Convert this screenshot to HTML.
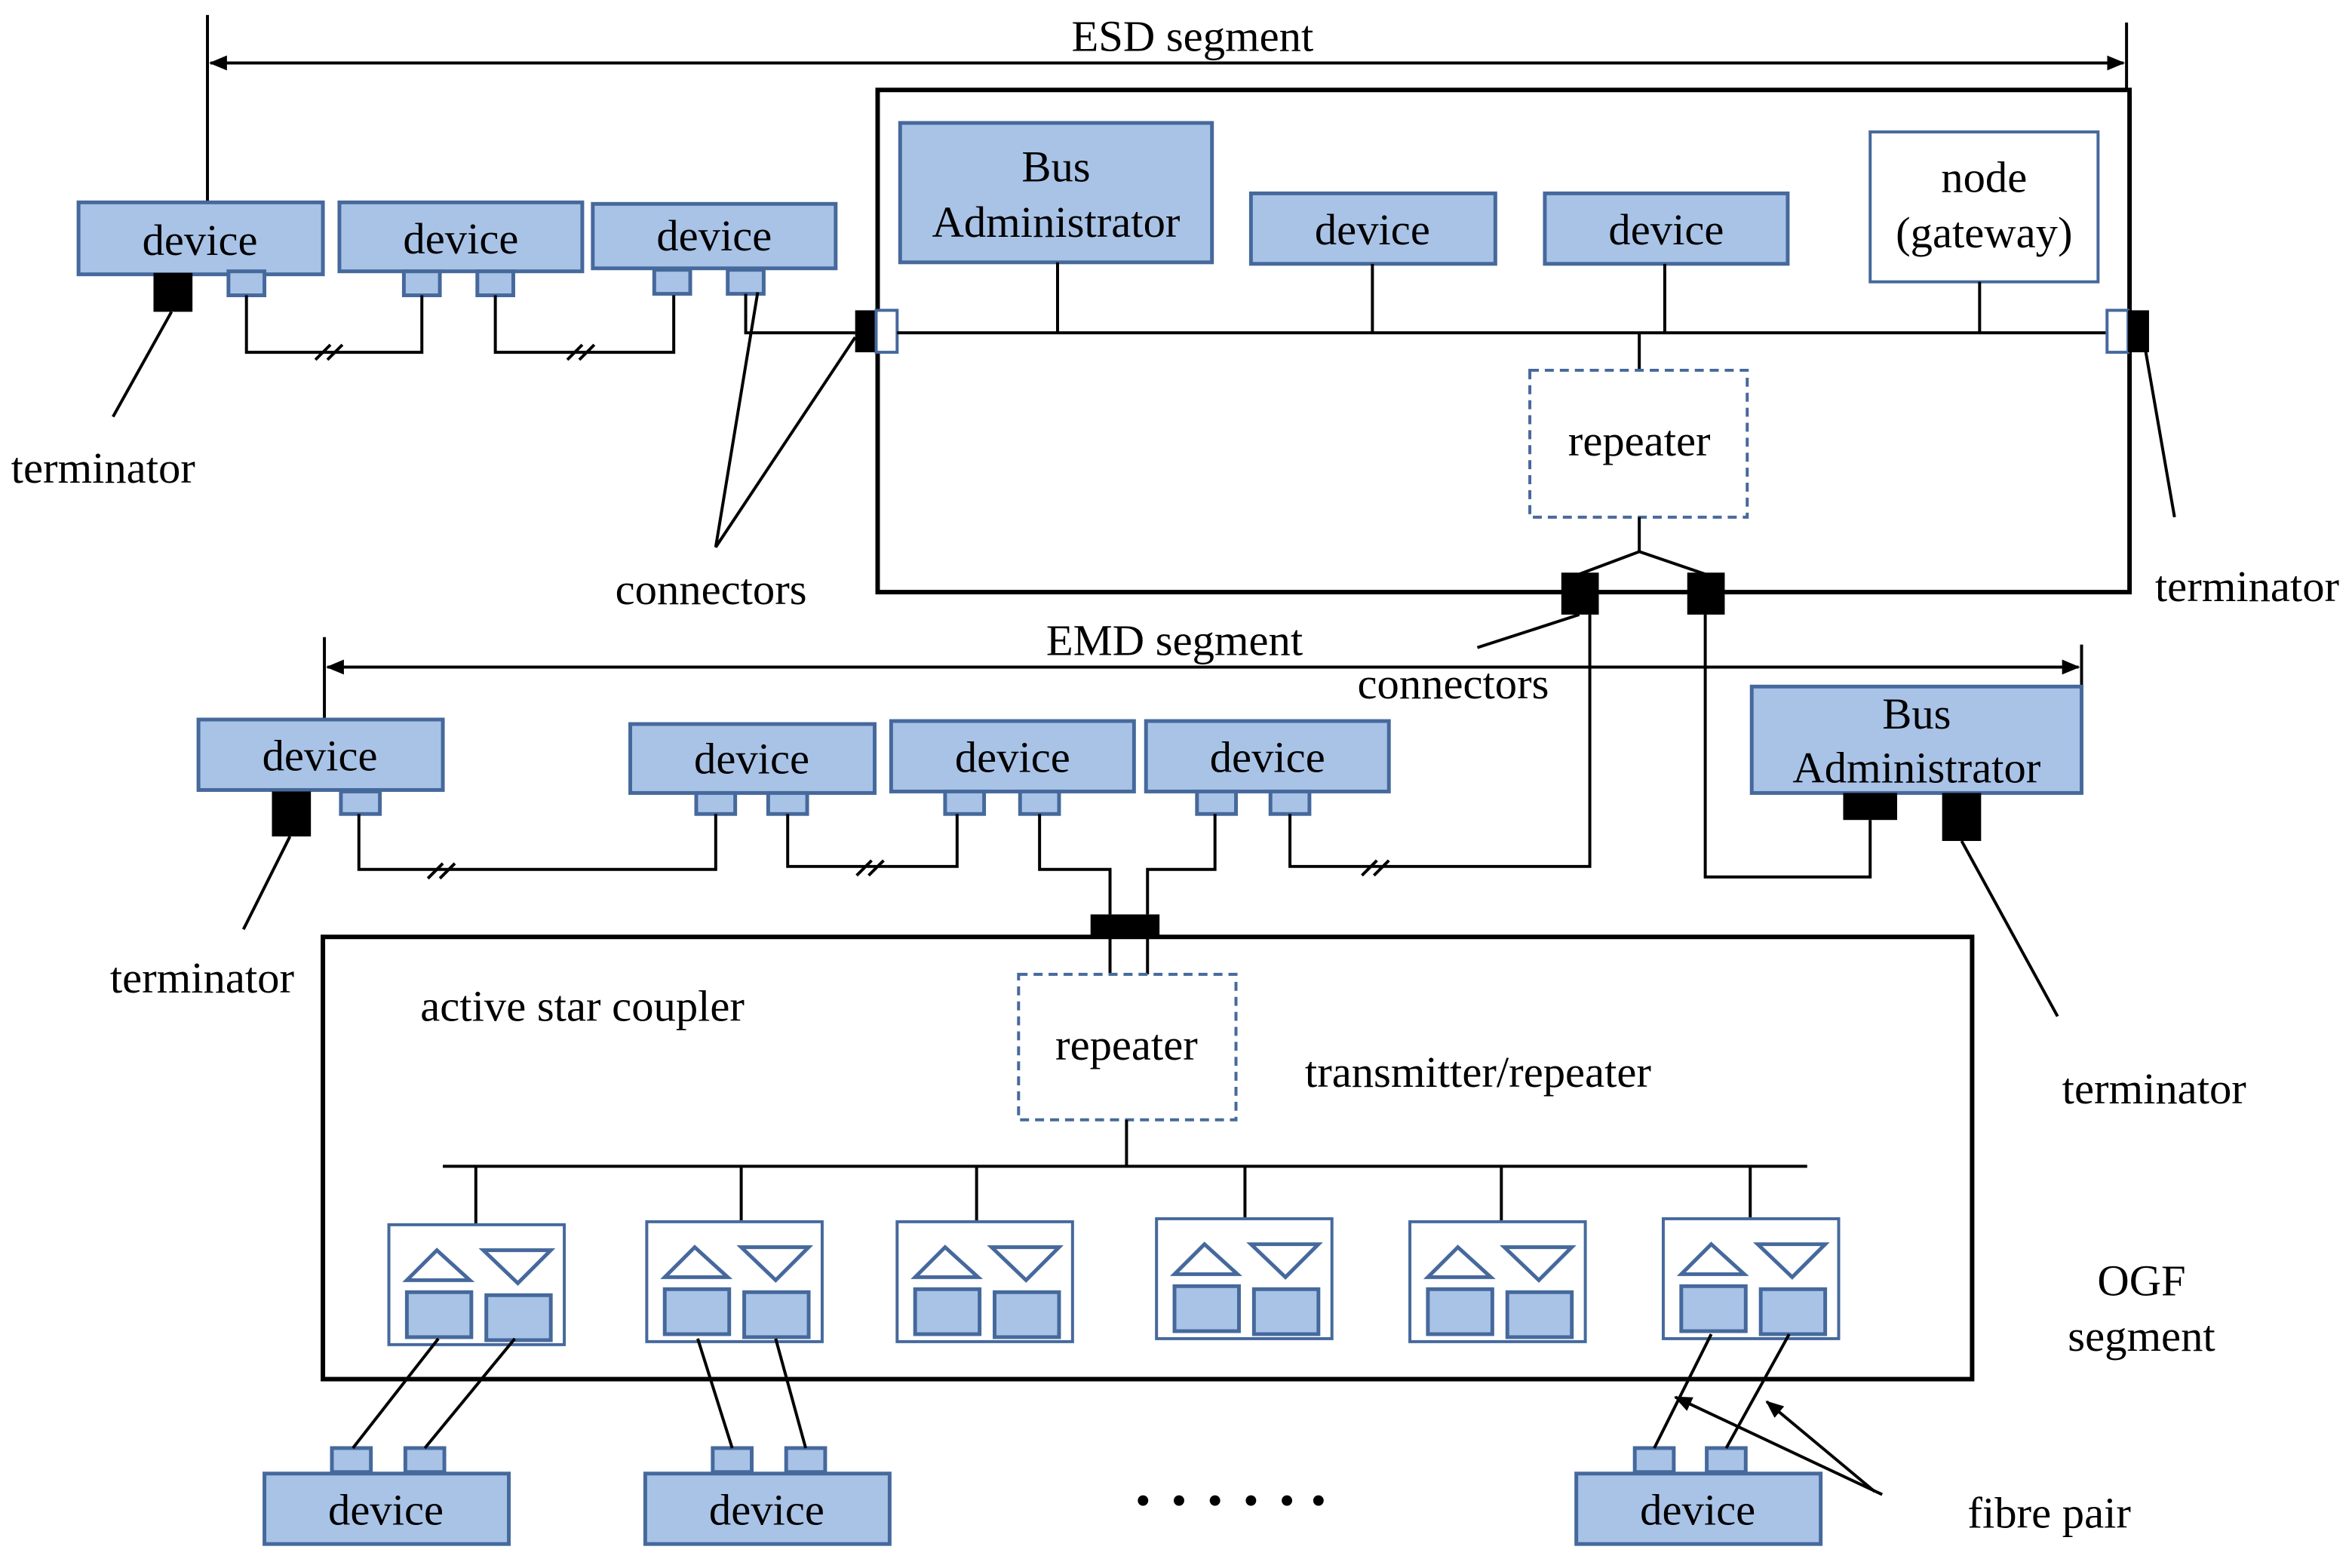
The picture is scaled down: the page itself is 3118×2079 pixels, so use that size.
<!DOCTYPE html>
<html><head><meta charset="utf-8"><style>
html,body{margin:0;padding:0;background:#fff;}
svg{display:block;}
text{font-family:"Liberation Serif",serif;font-size:29.5px;fill:#000;}
.b{fill:#a9c3e7;stroke:#46699c;stroke-width:2.5;}
.w{fill:none;stroke:#000;stroke-width:2;}
.k{fill:#000;}
</style></head><body>
<svg width="3118" height="2079" viewBox="0 0 1568 1046" xmlns="http://www.w3.org/2000/svg">
<defs>
<marker id="ar" markerWidth="12" markerHeight="10" refX="11" refY="5" orient="auto" markerUnits="userSpaceOnUse"><path d="M0,0 L12,5 L0,10 z" fill="#000"/></marker>
<marker id="al" markerWidth="12" markerHeight="10" refX="1" refY="5" orient="auto" markerUnits="userSpaceOnUse"><path d="M12,0 L0,5 L12,10 z" fill="#000"/></marker>
<g id="tr">
<rect x="0" y="0" width="117" height="80" fill="#fff" stroke="#46699c" stroke-width="2"/>
<path d="M12,37 L32,17 L54,37 Z" fill="none" stroke="#46699c" stroke-width="2.5"/>
<path d="M63,17 L108,17 L86,39 Z" fill="none" stroke="#46699c" stroke-width="2.5"/>
<rect x="12" y="45" width="43" height="30" class="b"/>
<rect x="65" y="47" width="43" height="30" class="b"/>
</g>
</defs>

<!-- ESD -->
<line x1="138" y1="10" x2="138" y2="135" class="w"/>
<line x1="1418" y1="15" x2="1418" y2="60" class="w"/>
<line x1="140" y1="42" x2="1416" y2="42" class="w" marker-start="url(#al)" marker-end="url(#ar)"/>
<text x="795" y="34" text-anchor="middle">ESD segment</text>
<rect x="585" y="60" width="835" height="335" fill="none" stroke="#000" stroke-width="3"/>

<rect x="52" y="135" width="163" height="48" class="b"/><text x="133" y="170" text-anchor="middle">device</text>
<rect x="226" y="135" width="162" height="46" class="b"/><text x="307" y="169" text-anchor="middle">device</text>
<rect x="395" y="136" width="162" height="43" class="b"/><text x="476" y="167" text-anchor="middle">device</text>
<rect x="152" y="181" width="24" height="16" class="b"/>
<rect x="269" y="181" width="24" height="16" class="b"/>
<rect x="318" y="181" width="24" height="16" class="b"/>
<rect x="436" y="180" width="24" height="16" class="b"/>
<rect x="485" y="180" width="24" height="16" class="b"/>
<rect x="102" y="182" width="26" height="26" class="k"/>
<path d="M164,197 V235 H281 V197" class="w"/>
<path d="M330,197 V235 H449 V197" class="w"/>
<path d="M497,196 V222 H570" class="w"/>
<path d="M210,240 l10,-10 M218,240 l10,-10 M378,240 l10,-10 M386,240 l10,-10" class="w"/>
<rect x="570" y="207" width="14" height="28" class="k"/>
<rect x="584" y="207" width="14" height="28" fill="#fff" stroke="#46699c" stroke-width="2"/>
<line x1="598" y1="222" x2="1405" y2="222" class="w"/>
<rect x="1405" y="207" width="14" height="28" fill="#fff" stroke="#46699c" stroke-width="2"/>
<rect x="1419" y="207" width="14" height="28" class="k"/>

<rect x="600" y="82" width="208" height="93" class="b"/>
<text x="704" y="121" text-anchor="middle">Bus</text><text x="704" y="158" text-anchor="middle">Administrator</text>
<rect x="834" y="129" width="163" height="47" class="b"/><text x="915" y="163" text-anchor="middle">device</text>
<rect x="1030" y="129" width="162" height="47" class="b"/><text x="1111" y="163" text-anchor="middle">device</text>
<rect x="1247" y="88" width="152" height="100" fill="#fff" stroke="#46699c" stroke-width="2"/>
<text x="1323" y="128" text-anchor="middle">node</text><text x="1323" y="165" text-anchor="middle">(gateway)</text>
<path d="M705,175 V222 M915,176 V222 M1110,176 V222 M1320,188 V222" class="w" stroke-width="3"/>
<line x1="1093" y1="222" x2="1093" y2="247" class="w"/>
<rect x="1020" y="247" width="145" height="98" fill="#fff" stroke="#46699c" stroke-width="2" stroke-dasharray="6,4"/>
<text x="1093" y="304" text-anchor="middle">repeater</text>
<path d="M1093,345 V368 L1053,383 M1093,368 L1137,383" class="w"/>
<rect x="1041" y="382" width="25" height="28" class="k"/>
<rect x="1125" y="382" width="25" height="28" class="k"/>

<line x1="114" y1="208" x2="75" y2="278" class="w"/>
<text x="7" y="322">terminator</text>
<path d="M505,195 L477,365 L570,225" class="w"/>
<text x="410" y="403">connectors</text>
<line x1="1430" y1="230" x2="1450" y2="345" class="w"/>
<text x="1437" y="401">terminator</text>

<!-- EMD -->
<line x1="216" y1="425" x2="216" y2="480" class="w"/>
<line x1="218" y1="445" x2="1386" y2="445" class="w" marker-start="url(#al)" marker-end="url(#ar)"/>
<line x1="1388" y1="430" x2="1388" y2="458" class="w"/>
<text x="783" y="437" text-anchor="middle">EMD segment</text>
<text x="905" y="466">connectors</text>
<line x1="985" y1="432" x2="1053" y2="410" class="w"/>

<rect x="132" y="480" width="163" height="47" class="b"/><text x="213" y="514" text-anchor="middle">device</text>
<rect x="420" y="483" width="163" height="46" class="b"/><text x="501" y="516" text-anchor="middle">device</text>
<rect x="594" y="481" width="162" height="47" class="b"/><text x="675" y="515" text-anchor="middle">device</text>
<rect x="764" y="481" width="162" height="47" class="b"/><text x="845" y="515" text-anchor="middle">device</text>
<rect x="1168" y="458" width="220" height="71" class="b"/>
<text x="1278" y="486" text-anchor="middle">Bus</text><text x="1278" y="522" text-anchor="middle">Administrator</text>
<rect x="227" y="528" width="26" height="15" class="b"/>
<rect x="464" y="529" width="26" height="14" class="b"/>
<rect x="512" y="529" width="26" height="14" class="b"/>
<rect x="630" y="528" width="26" height="15" class="b"/>
<rect x="680" y="528" width="26" height="15" class="b"/>
<rect x="798" y="528" width="26" height="15" class="b"/>
<rect x="847" y="528" width="26" height="15" class="b"/>
<rect x="181" y="528" width="26" height="30" class="k"/>
<rect x="1229" y="529" width="36" height="18" class="k"/>
<rect x="1295" y="529" width="26" height="32" class="k"/>
<path d="M239,543 V580 H477 V543" class="w"/>
<path d="M525,543 V578 H638 V543" class="w"/>
<path d="M693,543 V580 H740 V610" class="w"/>
<path d="M810,543 V580 H765 V610" class="w"/>
<path d="M860,543 V578 H1060 V410" class="w"/>
<path d="M1137,410 V585 H1247 V547" class="w"/>
<path d="M285,586 l10,-10 M293,586 l10,-10 M571,584 l10,-10 M579,584 l10,-10 M908,584 l10,-10 M916,584 l10,-10" class="w"/>
<line x1="193" y1="558" x2="162" y2="620" class="w"/>
<text x="73" y="662">terminator</text>
<line x1="1308" y1="561" x2="1372" y2="678" class="w"/>
<text x="1375" y="736">terminator</text>

<!-- coupler -->
<rect x="727" y="610" width="46" height="14" class="k"/>
<path d="M740,624 V650 M765,624 V650" class="w"/>
<rect x="215" y="625" width="1100" height="295" fill="none" stroke="#000" stroke-width="3"/>
<text x="280" y="681">active star coupler</text>
<rect x="679" y="650" width="145" height="97" fill="#fff" stroke="#46699c" stroke-width="2" stroke-dasharray="6,4"/>
<text x="751" y="707" text-anchor="middle">repeater</text>
<text x="870" y="725">transmitter/repeater</text>
<line x1="751" y1="747" x2="751" y2="778" class="w"/>
<line x1="295" y1="778" x2="1205" y2="778" class="w"/>
<path d="M317,778 V817 M494,778 V815 M651,778 V815 M830,778 V815 M1001,778 V815 M1167,778 V813" class="w"/>
<use href="#tr" x="259" y="817"/>
<use href="#tr" x="431" y="815"/>
<use href="#tr" x="598" y="815"/>
<use href="#tr" x="771" y="813"/>
<use href="#tr" x="940" y="815"/>
<use href="#tr" x="1109" y="813"/>
<text x="1428" y="864" text-anchor="middle">OGF</text>
<text x="1428" y="901" text-anchor="middle">segment</text>

<!-- bottom devices -->
<rect x="176" y="983" width="163" height="47" class="b"/><text x="257" y="1017" text-anchor="middle">device</text>
<rect x="430" y="983" width="163" height="47" class="b"/><text x="511" y="1017" text-anchor="middle">device</text>
<rect x="1051" y="983" width="163" height="47" class="b"/><text x="1132" y="1017" text-anchor="middle">device</text>
<rect x="221" y="966" width="26" height="16" class="b"/>
<rect x="270" y="966" width="26" height="16" class="b"/>
<rect x="475" y="966" width="26" height="16" class="b"/>
<rect x="524" y="966" width="26" height="16" class="b"/>
<rect x="1090" y="966" width="26" height="16" class="b"/>
<rect x="1138" y="966" width="26" height="16" class="b"/>
<path d="M292,893 L235,966 M343,893 L283,966 M465,893 L488,966 M517,893 L537,966 M1141,890 L1103,966 M1193,890 L1151,966" class="w"/>
<g class="k"><circle cx="762" cy="1001" r="3.5"/><circle cx="786" cy="1001" r="3.5"/><circle cx="810" cy="1001" r="3.5"/><circle cx="834" cy="1001" r="3.5"/><circle cx="858" cy="1001" r="3.5"/><circle cx="879" cy="1001" r="3.5"/></g>
<line x1="1255" y1="997" x2="1117" y2="932" class="w" marker-end="url(#ar)"/>
<line x1="1250" y1="995" x2="1178" y2="935" class="w" marker-end="url(#ar)"/>
<text x="1312" y="1019">fibre pair</text>
</svg>
</body></html>
